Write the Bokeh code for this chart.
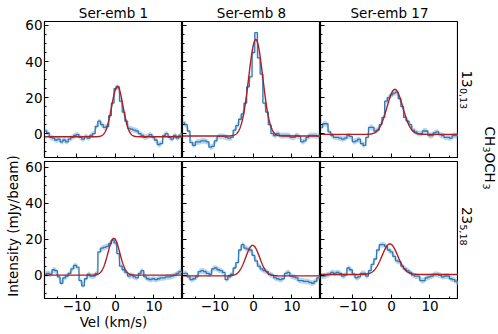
import numpy as np
from bokeh.plotting import figure
from bokeh.layouts import row, column
from bokeh.models import Range1d, SingleIntervalTicker, CustomJSTickFormatter
from bokeh.embed import file_html
from bokeh.resources import INLINE
from bokeh.core.properties import value

FONT = "DejaVu Sans"

sources = ["Ser-emb 1", "Ser-emb 8", "Ser-emb 17"]

# channel velocities (km/s)
chan_start = -18.2
chan_width = 0.7
n_chan = 52
vel = chan_start + chan_width * np.arange(n_chan)

# CH3OCH3 13(0,13) spectra (mJy/beam)
spec_ser1_13 = [1.5, 0.5, -2, -2.5, -3.5, -3, -4.5, -3.5, -4.5, -3, -2, -1, -0.5, -2, -3, -1.5,
                -2.5, -1, 0, 4, 7, 5, 3.5, 4, 10, 17, 25, 26, 18, 12, 7, 3, 2.5, 2, 1.5, 0,
                -1, -2, -1.5, -0.5, -2, -3.5, -6, -5.5, -1, 0, -2, -3, -1, -2.5, -1, 0]
spec_ser8_13 = [6, 5, 1.5, -5, -6.5, -4.5, -4.5, -4, -4, -4.5, -7.5, -7, -4, -1.5, -1.5, -1.5,
                -2, -2.5, -2, 2, 4.5, 8, 11, 17, 26, 31.5, 45, 56, 42, 33, 17, 12, 5, 0, -1, 0,
                -1, -1, -1, -1, -2, -2, -1, -1.5, -4.5, -4, -2, -1, -1, -1, -1.5, -1]
spec_ser17_13 = [3.5, 5.5, 5.5, 1, -1, -2, -2, -2.5, -3, -2.5, -1, -1.5, -4.5, -4, -3, -5.5,
                 -6.5, -2, 3.5, 3.5, 1.5, 2, 5, 9, 18, 20, 21.5, 22.5, 23, 19.5, 15, 9, 7, 5, 2,
                 1, 0, 0, 1.5, 1.5, -1, -1, 0.5, 1, -0.5, -1, -2, -2, -2.5, -1, -1, -1]
# CH3OCH3 23(5,18) spectra (mJy/beam)
spec_ser1_23 = [0.5, 1, 0.5, 3, 2.5, -1, -4.5, -1.5, -0.5, 1, 3.5, 5.5, 4.5, -3, -6, -2, 0.5,
                -0.5, -0.5, 1, 13, 15, 15.5, 16, 17.5, 19.5, 18, 12, 5, 3, 1.5, -0.5, 0, -1,
                -1.5, 1, 2.5, -1, -2, -2.5, -2, -2.5, -2, -1.5, -1.5, -1, -1, -0.5, 0, 1, 2, 1.5]
spec_ser8_23 = [1, 1, -1, -2.5, -2, -1, 2, 2.5, 2, 1, 0.5, 3.5, 4, 3, 2.5, 1.5, -2.5, -1, 0.5,
                4, 7, 14, 17, 15, 14.5, 14, 11, 8, 5, 3.5, 2.5, 2, 0.5, 0, -1.5, -2, -2.5, -2,
                1, 1.5, -0.5, -1, -1.5, -3, -3, -3.5, -3.5, -4, -4.5, -3.5, -1.5, -1]
spec_ser17_23 = [-0.5, -0.5, 0, 0.5, 1.5, 1, 1.5, 1, -0.5, 0, 4, 3, 0.5, -1.5, -1, 1, 1, -0.5,
                 2.5, 6, 9, 14, 17, 17, 16, 14, 13, 10.5, 8, 7.5, 5, 3.5, 2.5, 1.5, 0, -0.5,
                 -0.5, -3, -3, -1.5, -1, -0.5, 0.5, 0.5, 0, -1, -0.5, -0.5, -2, -2.5, -3.5, -5]
noise_rms = 1.6

# Gaussian fit parameters: one entry per source
fit_base_13 = [-1.7, -1.3, -0.4]
fit_amp_13 = [28.0, 53.5, 25.0]
fit_center_13 = [0.5, 0.6, 0.9]
fit_sigma_13 = [1.47, 1.83, 2.05]
fit_base_23 = [0.0, -0.4, 0.4]
fit_amp_23 = [20.5, 17.0, 17.0]
fit_center_23 = [-0.4, -0.2, -0.4]
fit_sigma_23 = [1.53, 1.8, 2.05]

x_lo, x_hi = -18.4, 17.4
y_range_top = (-13.2, 62.2)
y_range_bot = (-13.0, 63.3)

BLUE = "#2f79b9"
BAND = "#1f77b4"
RED = "#b01e22"

W, H = 498, 334
TOP_BORDER, BOT_BORDER = 21, 40
LEFT_W, Y_BORDER, FRAME_W, RIGHT_W = 22, 21, 138, 41


def hide_labels(ax):
    ax.formatter = CustomJSTickFormatter(code="return ''")
    ax.major_label_text_font_size = "1px"
    ax.major_label_standoff = 0


def panel(spec, base, amp, cen, sig, top, left, title=None, xlabel=None):
    fh = 136 if top else 137
    yr = y_range_top if top else y_range_bot
    p = figure(frame_width=FRAME_W, frame_height=fh, output_backend="svg", toolbar_location=None,
               x_range=Range1d(x_lo, x_hi), y_range=Range1d(*yr),
               min_border=0, min_border_left=(Y_BORDER if left else 0),
               min_border_top=(TOP_BORDER if top else 0),
               min_border_bottom=(0 if top else BOT_BORDER),
               min_border_right=0, background_fill_color="white", border_fill_color=None)
    p.grid.visible = False
    p.outline_line_color = "black"
    p.outline_line_width = 1.2
    spec = np.array(spec, dtype=float)
    p.varea(x=vel, y1=spec - noise_rms, y2=spec + noise_rms, fill_color=BAND, fill_alpha=0.3)
    p.step(vel, spec, mode="center", line_color=BLUE, line_width=1.3)
    vf = np.linspace(x_lo, x_hi, 400)
    model = base + amp * np.exp(-0.5 * ((vf - cen) / sig) ** 2)
    p.line(vf, model, line_color=RED, line_width=1.4)

    p.xaxis.ticker = SingleIntervalTicker(interval=10, num_minor_ticks=2)
    p.yaxis.ticker = SingleIntervalTicker(interval=20, num_minor_ticks=4)
    p.xaxis.major_label_overrides = {-10: "\u221210", 0: "0", 10: "10"}
    for ax in (p.xaxis[0], p.yaxis[0]):
        ax.major_tick_in = 4
        ax.major_tick_out = 0
        ax.minor_tick_in = 2
        ax.minor_tick_out = 0
        ax.axis_line_color = "black"
        ax.major_tick_line_color = "black"
        ax.minor_tick_line_color = "black"
        ax.major_label_text_font = FONT
        ax.major_label_text_font_size = "13.5px"
        ax.major_label_text_color = "black"
        ax.major_label_standoff = 2
    if top:
        hide_labels(p.xaxis[0])
    if not left:
        hide_labels(p.yaxis[0])
    if xlabel:
        p.xaxis.axis_label = xlabel
        p.xaxis.axis_label_text_font = FONT
        p.xaxis.axis_label_text_font_size = "13.5px"
        p.xaxis.axis_label_text_font_style = "normal"
        p.xaxis.axis_label_text_color = "black"
        p.xaxis.axis_label_standoff = 0
    if title:
        p.title.text = title
        p.title.align = "center"
        p.title.text_font = FONT
        p.title.text_font_size = "13.5px"
        p.title.text_font_style = "normal"
        p.title.text_color = "black"
        p.title.standoff = 2
        p.title.offset = 0
    return p


specs_13 = [spec_ser1_13, spec_ser8_13, spec_ser17_13]
specs_23 = [spec_ser1_23, spec_ser8_23, spec_ser17_23]

top_row = [panel(specs_13[i], fit_base_13[i], fit_amp_13[i], fit_center_13[i], fit_sigma_13[i],
                 True, i == 0, title=sources[i]) for i in range(3)]
bot_row = [panel(specs_23[i], fit_base_23[i], fit_amp_23[i], fit_center_23[i], fit_sigma_23[i],
                 False, i == 0, xlabel=("Vel (km/s)" if i == 0 else None)) for i in range(3)]


def label_fig(w):
    f = figure(width=w, height=H, output_backend="svg", toolbar_location=None,
               x_range=Range1d(0, w), y_range=Range1d(0, H), min_border=0)
    f.axis.visible = False
    f.grid.visible = False
    f.outline_line_color = None
    f.border_fill_color = None
    return f


left = label_fig(LEFT_W)
left.text(x=[12], y=[H - 225.5], text=["Intensity (mJy/beam)"], angle=np.pi / 2,
          text_align="center", text_baseline="middle", text_font=value(FONT),
          text_font_size=value("13.5px"), text_color="black")

right = label_fig(RIGHT_W)
x0 = LEFT_W + Y_BORDER + 3 * FRAME_W  # image x where the right label strip starts
# rotated labels read top-to-bottom; subscripts are smaller and shifted "down" (left)
label_parts = [
    # (text, image x of text middle, image y where text starts, font size)
    ("13", 465.0, 70.0, 13.5), ("0,13", 462.0, 87.5, 9.5),
    ("23", 465.0, 206.5, 13.5), ("5,18", 462.0, 224.0, 9.5),
    ("CH", 488.0, 126.0, 13.5), ("3", 485.0, 146.0, 9.5),
    ("OCH", 488.0, 152.0, 13.5), ("3", 485.0, 183.0, 9.5),
]
for t, x, y, s in label_parts:
    right.text(x=[x - x0], y=[H - y], text=[t], angle=-np.pi / 2, text_align="left",
               text_baseline="middle", text_font=value(FONT), text_font_size=value(f"{s}px"),
               text_color="black")

grid = column(row(*top_row), row(*bot_row))
layout = row(left, grid, right)

open("out.html", "w").write(file_html(layout, INLINE))
